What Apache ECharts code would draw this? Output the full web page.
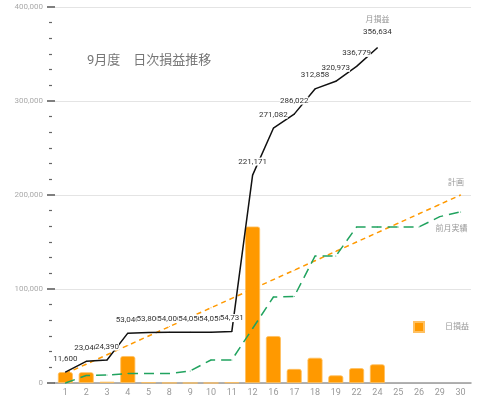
<!DOCTYPE html>
<html>
<head>
<meta charset="utf-8">
<script src="https://cdn.jsdelivr.net/npm/echarts@6/dist/echarts.min.js"></script>
<style>
html,body{margin:0;padding:0;background:#fff;}
#chart{width:480px;height:401px;}
</style>
</head>
<body>
<div id="chart"></div>
<script>
const categories = ['1','2','3','4','5','8','9','10','11','12','16','17','18','19','22','24','25','26','29','30'];
const dailyPL = [11600, 11440, 1350, 28650, 760, 200, 50, 8, 673, 166440, 49911, 14940, 26836, 8115, 15806, 19855, null, null, null, null];
const cumulativePL = [11600, 23040, 24390, 53040, 53800, 54000, 54050, 54058, 54731, 221171, 271082, 286022, 312858, 320973, 336779, 356634];
const planPL = [10000, 20000, 30000, 40000, 50000, 60000, 70000, 80000, 90000, 100000, 110000, 120000, 130000, 140000, 150000, 160000, 170000, 180000, 190000, 200000];
const lastMonthPL = [0, 8000, 8500, 10000, 10000, 10000, 12800, 24500, 24500, 58000, 91500, 92000, 135000, 135000, 166000, 166000, 166000, 166000, 177000, 182000];
const yTicks = [0, 100000, 200000, 300000, 400000];

const fmt = v => Number(v).toLocaleString('en-US');
const chart = echarts.init(document.getElementById('chart'));
chart.setOption({
  animation: false,
  textStyle: { fontFamily: "Roboto, 'Noto Sans CJK JP', sans-serif" },
  title: {
    text: '9月度　日次損益推移',
    left: 87, top: 54, padding: 0,
    textStyle: { fontSize: 13, fontWeight: 'normal', color: '#777' }
  },
  legend: {
    data: ['日損益'],
    left: 413, top: 321, padding: 0,
    itemWidth: 10, itemHeight: 10, icon: 'rect',
    textStyle: { fontSize: 8, color: '#999', padding: [0, 0, 0, 16] }
  },
  grid: { left: 55, right: 9, top: 7, bottom: 18, containLabel: false },
  xAxis: {
    type: 'category',
    data: categories,
    axisTick: { show: false },
    axisLine: { lineStyle: { color: '#999', width: 1.5 } },
    axisLabel: { fontSize: 9, color: '#999', margin: 5 }
  },
  yAxis: [{
    type: 'value',
    min: yTicks[0], max: yTicks[yTicks.length - 1], interval: 100000,
    axisLine: { show: false },
    axisTick: { show: true, length: 8, lineStyle: { color: '#555', width: 1.5 } },
    axisLabel: { fontSize: 8, color: '#aaa', margin: 12, formatter: fmt },
    splitLine: { lineStyle: { color: '#e4e4e4', width: 1 } }
  }, {
    type: 'value',
    position: 'left',
    offset: 3,
    min: yTicks[0], max: yTicks[yTicks.length - 1], interval: 100000,
    axisLine: { show: false },
    axisTick: { show: false },
    axisLabel: { show: false },
    splitLine: { show: false },
    minorTick: { show: true, splitNumber: 6, length: 3, lineStyle: { color: '#666', width: 1.2 } }
  }],
  series: [{
    name: '日損益',
    type: 'bar',
    data: dailyPL,
    barWidth: 15,
    z: 1,
    itemStyle: { color: '#ff9900', borderColor: '#ffc060', borderWidth: 0.8, borderRadius: [2, 2, 0, 0] }
  }, {
    name: '計画',
    type: 'line',
    data: planPL,
    symbol: 'circle',
    symbolSize: 1,
    z: 2,
    lineStyle: { color: '#ff9900', width: 1.5, type: [5, 4] },
    itemStyle: { color: '#ff9900' },
    label: {
      show: true, position: 'top', distance: 7.5, offset: [-4.5, 0], fontSize: 8, color: '#999',
      formatter: p => p.dataIndex === planPL.length - 1 ? p.seriesName : ''
    }
  }, {
    name: '前月実績',
    type: 'line',
    data: lastMonthPL,
    symbol: 'circle',
    symbolSize: 1,
    z: 2,
    lineStyle: { color: '#21a35f', width: 1.5, type: [10, 6] },
    itemStyle: { color: '#21a35f' },
    label: {
      show: true, position: 'bottom', distance: 12.5, offset: [-9, 0], fontSize: 8, color: '#999',
      formatter: p => p.dataIndex === lastMonthPL.length - 1 ? p.seriesName : ''
    }
  }, {
    name: '月損益',
    type: 'line',
    data: cumulativePL,
    symbol: 'circle',
    symbolSize: 1,
    z: 3,
    lineStyle: { color: '#111', width: 1.5 },
    itemStyle: { color: '#111' },
    label: {
      show: true, position: 'top', distance: 9, fontSize: 8, color: '#333',
      backgroundColor: '#fff',
      formatter: p => p.dataIndex === cumulativePL.length - 1
        ? '{n|' + p.seriesName + '}\n{v|' + fmt(p.value) + '}'
        : fmt(p.value),
      rich: {
        n: { fontSize: 8, color: '#999', lineHeight: 12 },
        v: { fontSize: 8, color: '#333', lineHeight: 12 }
      }
    }
  }]
});
</script>
</body>
</html>
